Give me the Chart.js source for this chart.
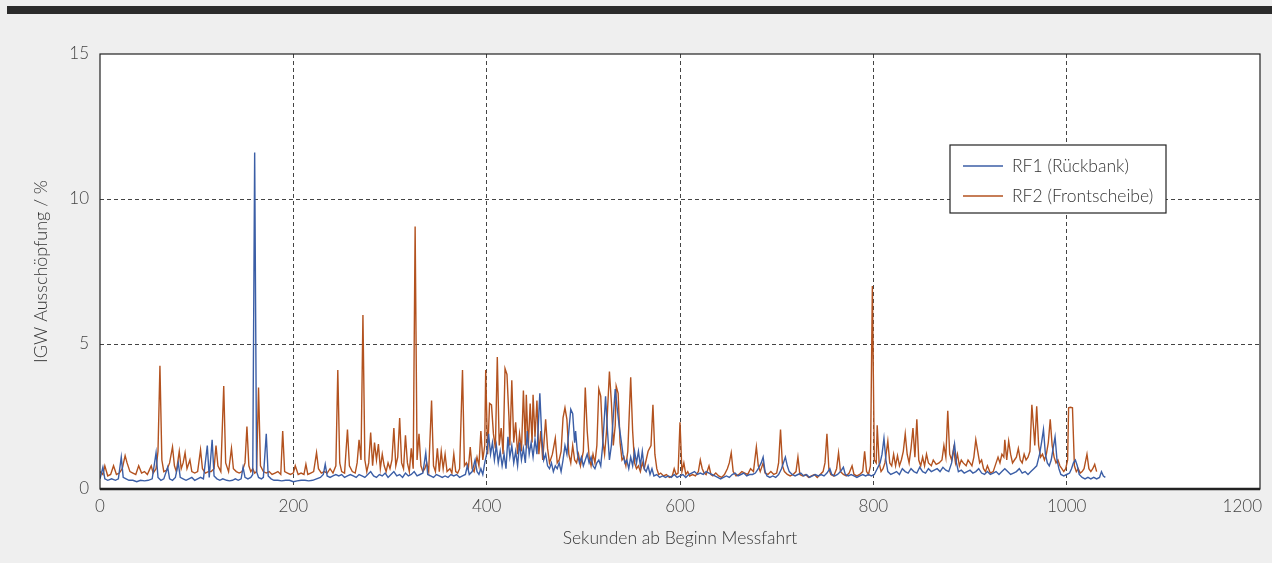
<!DOCTYPE html>
<html><head><meta charset="utf-8">
<script src="https://cdn.jsdelivr.net/npm/chart.js@4.4.1/dist/chart.umd.min.js"></script>
<style>html,body{margin:0;padding:0;background:#efefef;}canvas{display:block;}</style>
</head><body>
<canvas id="c" width="1272" height="563"></canvas>
<script>
const seriesLabels = ["RF1 (Rückbank)", "RF2 (Frontscheibe)"];
const xTicks = [0, 200, 400, 600, 800, 1000, 1200];
const yTicks = [0, 5, 10, 15];
const xTitle = "Sekunden ab Beginn Messfahrt";
const yTitle = "IGW Ausschöpfung / %";

const rf1Sec = [0,3,5,8,12,16,19,22,24,27,30,34,38,42,46,50,54,58,60,63,66,70,72,75,78,81,83,86,89,92,95,98,101,104,107,111,113,116,118,121,124,127,131,134,137,140,143,146,148,150,153,156,158,160,162,164,167,169,172,174,177,180,184,188,192,196,200,204,208,212,216,220,224,228,231,233,235,238,241,244,247,250,253,256,259,262,265,268,271,274,277,280,283,286,289,292,295,298,301,304,307,310,313,316,319,322,325,328,331,334,337,339,342,345,348,351,354,357,360,363,366,369,372,375,378,380,382,385,388,390,392,394,396,398,400,402,404,406,408,410,412,414,416,418,420,422,424,426,428,430,432,434,436,438,440,442,444,446,448,450,452,454,455,457,459,461,463,465,467,469,471,473,475,477,479,481,483,485,487,489,491,492,494,496,498,500,502,504,506,508,510,512,514,516,518,520,522,523,525,527,529,531,533,535,537,539,541,543,545,547,549,551,553,555,557,559,561,563,565,567,569,571,573,576,579,582,585,588,591,594,597,600,603,606,609,612,615,618,621,624,627,630,633,636,639,642,645,648,651,654,657,660,663,666,669,672,675,678,681,684,686,688,690,693,696,699,702,705,707,709,711,713,716,719,722,725,728,731,734,737,740,743,746,749,752,755,757,760,763,766,769,771,774,777,780,783,786,789,792,795,798,801,804,807,809,811,813,815,818,821,824,827,830,833,836,839,842,845,848,851,854,857,860,863,866,869,872,875,878,881,884,886,888,891,894,897,900,903,906,909,912,915,918,921,924,927,930,933,936,939,942,945,948,951,954,957,960,963,966,969,972,974,976,978,980,982,984,986,988,990,992,994,997,1000,1003,1005,1007,1009,1011,1013,1016,1019,1022,1025,1028,1031,1034,1036,1038,1040];
const rf1Val = [0.35,0.75,0.35,0.3,0.35,0.3,0.35,1.1,0.4,0.35,0.3,0.3,0.25,0.3,0.28,0.3,0.35,1.25,0.4,0.3,0.35,0.75,0.35,0.3,0.4,0.9,0.4,0.35,0.3,0.35,0.4,0.3,0.35,0.4,0.35,1.5,0.4,1.7,0.45,0.35,0.3,0.35,0.3,0.28,0.3,0.35,0.3,0.35,0.75,0.4,0.35,0.4,0.5,11.6,0.6,0.4,0.35,0.4,1.9,0.45,0.35,0.3,0.3,0.28,0.3,0.3,0.25,0.28,0.3,0.3,0.28,0.3,0.35,0.4,0.5,0.85,0.45,0.4,0.45,0.5,0.45,0.5,0.4,0.45,0.5,0.45,0.4,0.5,0.45,0.4,0.5,0.6,0.45,0.4,0.5,0.45,0.55,0.4,0.5,0.6,0.45,0.5,0.4,0.55,0.45,0.5,0.6,0.45,0.5,0.55,1.25,0.5,0.45,0.4,0.5,0.45,0.4,0.45,0.4,0.5,0.45,0.5,0.4,0.45,0.5,0.8,0.5,0.6,1.0,0.6,0.5,0.7,0.5,0.9,1.2,1.9,1.2,1.6,1.0,1.5,0.9,1.3,0.8,1.2,0.7,1.8,1.1,1.5,0.9,1.3,0.8,1.6,1.0,1.4,0.9,2.0,1.2,1.6,1.1,1.7,1.2,2.6,3.3,1.8,1.0,1.2,0.8,0.7,0.9,0.6,0.8,0.7,0.9,0.6,1.0,1.5,1.2,2.0,2.75,2.6,1.6,2.0,1.2,0.9,1.1,0.8,1.0,1.2,0.9,1.1,0.8,0.7,0.9,1.0,0.8,1.5,2.6,3.2,2.0,1.0,1.5,2.5,3.45,2.8,2.2,1.7,1.2,0.9,1.0,0.7,1.1,0.8,1.3,0.9,1.3,0.8,1.3,0.7,0.6,0.8,0.5,0.7,0.45,0.5,0.4,0.45,0.4,0.45,0.4,0.5,0.4,0.45,0.5,0.4,0.5,0.55,0.6,0.5,0.55,0.5,0.6,0.55,0.5,0.45,0.4,0.35,0.4,0.45,0.4,0.5,0.55,0.45,0.5,0.55,0.45,0.5,0.5,0.55,0.7,0.9,1.1,0.6,0.45,0.4,0.45,0.4,0.5,0.7,0.9,1.1,0.8,0.6,0.5,0.45,0.5,0.55,0.45,0.5,0.4,0.45,0.5,0.45,0.5,0.45,0.55,0.7,0.5,0.45,0.5,0.6,0.75,0.5,0.45,0.5,0.45,0.4,0.45,0.5,0.45,0.5,0.45,0.5,0.7,0.9,1.2,1.75,1.0,0.6,0.5,0.55,0.6,0.5,0.7,0.6,0.55,0.7,0.6,0.55,0.75,0.6,0.55,0.7,0.6,0.65,0.7,0.6,0.75,0.65,0.6,0.9,1.55,0.9,0.6,0.65,0.55,0.6,0.65,0.55,0.6,0.7,0.55,0.5,0.6,0.5,0.55,0.6,0.5,0.6,0.7,0.6,0.5,0.55,0.6,0.7,0.55,0.6,0.5,0.6,0.7,0.8,1.2,1.6,2.05,1.2,0.9,0.8,1.0,1.4,1.8,1.0,0.7,0.5,0.45,0.5,0.55,0.7,0.9,1.0,0.8,0.5,0.4,0.35,0.4,0.35,0.4,0.35,0.4,0.6,0.45,0.4];

const rf2Sec = [0,3,5,8,11,14,17,20,23,26,28,31,34,37,40,43,46,49,51,53,55,58,60,62,64,66,69,72,75,77,79,82,84,86,88,90,93,95,98,101,104,106,109,112,115,118,120,122,125,128,130,133,136,138,141,144,147,150,152,154,156,158,160,162,164,166,169,172,175,178,181,184,187,189,191,194,197,200,202,205,208,211,213,215,218,221,224,226,229,232,235,238,241,244,246,248,250,253,256,258,261,264,266,268,270,272,274,276,278,280,282,284,286,288,290,292,294,296,298,300,302,304,306,308,310,312,314,316,318,320,322,324,326,328,330,332,334,336,338,340,343,345,347,349,351,353,355,357,359,362,364,366,368,370,372,375,377,379,381,383,385,387,390,392,394,396,398,399,401,403,405,407,409,411,413,415,417,419,421,423,424,426,428,430,432,434,436,438,440,441,443,445,447,448,450,452,454,456,458,461,463,465,468,471,473,475,477,479,481,483,485,487,489,491,493,495,497,500,502,504,506,508,510,512,514,516,518,520,522,524,527,529,531,533,534,536,538,540,542,544,546,549,551,553,555,557,559,561,563,565,567,570,572,574,576,578,580,583,586,589,592,594,596,598,600,602,604,606,608,610,613,616,619,621,623,625,627,630,632,634,637,640,643,646,649,651,653,655,658,661,664,667,670,673,676,679,681,683,686,688,691,694,697,700,702,704,706,708,711,714,717,720,722,724,727,730,733,736,739,742,745,748,750,752,754,756,759,762,764,766,769,772,775,778,780,783,786,789,791,793,795,797,799,801,803,804,806,808,810,812,815,817,819,821,823,825,827,829,831,833,835,837,839,841,843,845,847,849,851,853,855,857,860,862,865,868,871,873,875,877,879,881,883,885,887,889,891,893,896,898,900,902,904,906,908,910,912,914,916,918,921,924,927,929,931,933,935,936,938,940,942,944,946,948,950,952,954,956,958,960,962,964,966,967,969,971,973,975,977,979,981,983,985,987,989,991,993,995,997,999,1001,1002,1004,1006,1008,1010,1012,1014,1016,1018,1021,1023,1025,1027,1029,1031];
const rf2Val = [0.6,0.5,0.8,0.45,0.5,0.8,0.5,0.55,0.7,1.15,0.9,0.6,0.55,0.5,0.8,0.55,0.6,0.5,0.65,0.8,0.55,0.7,1.3,4.25,1.0,0.6,0.65,0.9,1.45,0.8,0.6,1.3,0.7,0.9,1.25,0.7,1.0,0.6,0.55,0.6,1.35,0.7,0.55,0.6,0.6,0.7,1.5,0.8,0.6,3.55,0.9,0.6,1.4,0.7,0.6,0.55,0.6,0.9,2.15,0.8,0.6,0.7,0.55,0.6,3.5,0.8,0.6,0.55,0.6,0.5,0.55,0.6,0.5,2.0,0.6,0.55,0.5,0.55,0.8,0.5,0.55,0.5,0.85,0.5,0.55,0.6,1.25,0.7,0.55,0.6,0.55,0.7,0.55,0.8,4.1,0.9,0.6,0.55,2.05,0.8,0.6,0.55,0.9,1.7,1.0,6.0,1.0,0.6,0.9,1.95,0.8,1.6,1.0,1.55,0.7,1.2,0.8,0.6,0.9,0.7,1.0,2.1,0.8,1.1,2.45,0.9,0.7,1.85,0.9,0.6,1.4,0.7,9.05,1.0,1.9,0.8,0.6,0.7,0.9,0.6,3.05,0.8,0.6,1.4,0.6,1.3,0.7,1.2,0.6,0.7,0.55,1.2,0.6,0.55,0.7,4.1,0.8,0.9,0.7,1.45,0.7,0.6,1.1,0.8,2.0,1.0,1.5,4.1,1.2,2.95,2.9,1.9,1.4,4.55,1.5,2.1,1.2,4.15,3.95,2.5,1.5,3.75,1.6,2.3,1.2,1.9,1.3,3.4,1.5,3.25,1.4,2.95,1.6,3.25,1.8,3.05,1.2,2.0,1.0,2.4,1.4,0.9,1.2,1.75,0.9,1.0,1.3,2.45,2.8,2.4,1.2,0.9,1.5,1.0,0.9,1.2,0.8,1.3,3.5,2.0,1.1,0.8,1.2,0.9,1.5,3.45,3.2,1.7,1.2,2.0,4.05,3.0,1.5,2.2,3.55,3.3,1.6,1.0,1.1,0.8,1.3,3.85,2.0,0.9,0.7,0.8,0.6,0.9,0.7,1.0,1.3,1.5,2.9,1.2,0.7,0.5,0.55,0.45,0.5,0.4,0.45,0.7,0.5,0.55,2.3,0.6,0.9,0.5,0.6,0.45,0.5,0.45,0.6,1.0,0.7,0.55,0.5,0.8,0.5,0.45,0.55,0.45,0.4,0.5,0.7,0.9,1.25,0.6,0.45,0.5,0.6,0.55,0.5,0.7,0.6,1.45,0.8,0.6,0.9,0.55,0.5,0.6,0.5,0.55,0.9,2.05,0.8,0.6,0.5,0.45,0.5,0.6,1.1,0.5,0.45,0.5,0.4,0.45,0.5,0.4,0.5,0.6,0.9,1.9,0.7,0.5,0.45,0.7,1.25,0.6,0.5,0.45,0.55,0.8,0.5,0.45,0.5,0.6,1.3,0.6,0.5,0.8,7.0,1.0,0.9,2.2,0.9,0.6,0.7,0.9,1.65,0.9,0.8,1.2,0.8,1.15,0.8,1.0,1.3,1.9,1.2,0.9,1.4,2.1,1.1,2.4,1.0,0.8,1.1,0.8,1.2,0.9,0.8,1.0,0.85,0.9,1.0,1.5,1.1,2.7,1.2,1.0,1.4,0.9,1.2,0.8,1.0,0.9,0.8,1.0,0.9,0.8,1.1,1.7,1.3,0.9,1.0,0.7,0.6,0.8,0.55,0.6,0.9,1.1,0.9,1.2,1.1,1.7,1.0,1.65,1.2,0.9,1.0,1.1,1.4,1.0,0.9,1.2,1.0,1.1,1.3,2.9,2.0,1.5,2.85,1.5,1.1,1.2,1.0,1.2,1.6,2.4,1.5,1.1,0.9,1.0,0.8,0.7,0.6,0.7,1.0,2.8,2.82,2.8,0.8,0.6,0.7,0.55,0.6,0.7,1.2,0.7,0.6,0.7,0.85,0.6];

const rf1Color = "#3b5ea6";
const rf2Color = "#b3521f";

function pts(xs, ys){ return xs.map((x,i)=>({x:x, y:ys[i]})); }

const FONT = "Lato, 'Open Sans', 'Noto Sans', sans-serif";

const framePlugin = {
  id: 'frame',
  beforeDraw(chart){
    const ctx = chart.ctx, a = chart.chartArea;
    ctx.save();
    ctx.fillStyle = '#efefef';
    ctx.fillRect(0,0,chart.width,chart.height);
    ctx.fillStyle = '#2b2b2b';
    ctx.fillRect(7,6,chart.width-7,8);
    ctx.fillStyle = '#ffffff';
    ctx.fillRect(a.left,a.top,a.right-a.left,a.bottom-a.top);
    ctx.restore();
  },
  afterDraw(chart){
    const ctx = chart.ctx, a = chart.chartArea;
    ctx.save();
    ctx.strokeStyle = '#222';
    ctx.lineWidth = 1.2;
    ctx.strokeRect(a.left, a.top, a.right-a.left, a.bottom-a.top);
    ctx.lineWidth = 2.5;
    ctx.beginPath(); ctx.moveTo(a.left, a.bottom); ctx.lineTo(a.right, a.bottom); ctx.stroke();
    // legend box
    const bx = 950, by = 145, bw = 216, bh = 68;
    ctx.fillStyle = '#fff';
    ctx.fillRect(bx, by, bw, bh);
    ctx.strokeStyle = '#222'; ctx.lineWidth = 1.2;
    ctx.strokeRect(bx, by, bw, bh);
    ctx.font = '300 17.5px ' + FONT;
    ctx.textBaseline = 'middle';
    chart.data.datasets.forEach((ds,i)=>{
      const y = by + 21 + i*30;
      ctx.strokeStyle = ds.borderColor; ctx.lineWidth = 1.3;
      ctx.beginPath(); ctx.moveTo(bx+13, y); ctx.lineTo(bx+53, y); ctx.stroke();
      ctx.fillStyle = '#333';
      ctx.fillText(ds.label, bx+62, y);
    });
    ctx.restore();
  }
};

function alignLastLabel(s){
  if (s._lastAligned) return;
  s._lastAligned = true;
  const orig = s._computeLabelItems.bind(s);
  s._computeLabelItems = function(ca){
    const items = orig(ca);
    const last = items[items.length - 1];
    if (last && last.options) {
      last.options.textAlign = 'right';
      last.options.translation[0] = this.right + 2;
    }
    return items;
  };
}

new Chart(document.getElementById('c'), {
  type: 'line',
  data: {
    datasets: [
      { label: seriesLabels[0], data: pts(rf1Sec, rf1Val), borderColor: rf1Color, borderWidth: 1.4, pointRadius: 0, tension: 0 },
      { label: seriesLabels[1], data: pts(rf2Sec, rf2Val), borderColor: rf2Color, borderWidth: 1.4, pointRadius: 0, tension: 0 }
    ]
  },
  options: {
    responsive: false, animation: false, devicePixelRatio: 1,
    layout: { padding: { top: 54, right: 12, left: 30, bottom: 14 } },
    plugins: { legend: { display: false }, tooltip: { enabled: false } },
    scales: {
      x: {
        type: 'linear', min: 0, max: 1200,
        afterBuildTicks(s){ s.ticks = xTicks.map(v=>({value:v})); },
        afterFit(s){ s.height = 60; s.paddingLeft = 0; s.paddingRight = 0; alignLastLabel(s); },
        grid: { drawTicks: false, color: c => (c.tick && (c.tick.value===0||c.tick.value===1200)) ? 'rgba(0,0,0,0)' : '#444', lineWidth: 1 },
        border: { display: false, dash: [4,3] },
        ticks: { color: '#444', font: { family: FONT, size: 17, weight: 300 }, padding: 7, maxRotation: 0, callback: v => String(v) },
        title: { display: true, text: xTitle, color: '#333', font: { family: FONT, size: 17.5, weight: 300 }, padding: { top: 6, bottom: 0 } }
      },
      y: {
        type: 'linear', min: 0, max: 15,
        afterBuildTicks(s){ s.ticks = yTicks.map(v=>({value:v})); },
        afterFit(s){ s.width = 70; s.paddingTop = 0; s.paddingBottom = 0; },
        grid: { drawTicks: false, color: c => (c.tick && (c.tick.value===0||c.tick.value===15)) ? 'rgba(0,0,0,0)' : '#444', lineWidth: 1 },
        border: { display: false, dash: [4,3] },
        ticks: { color: '#444', font: { family: FONT, size: 17, weight: 300 }, padding: 11, callback: v => String(v) },
        title: { display: true, text: yTitle, color: '#333', font: { family: FONT, size: 18, weight: 300 }, padding: { top: 0, bottom: 0 } }
      }
    }
  },
  plugins: [framePlugin]
});
</script>
</body></html>
